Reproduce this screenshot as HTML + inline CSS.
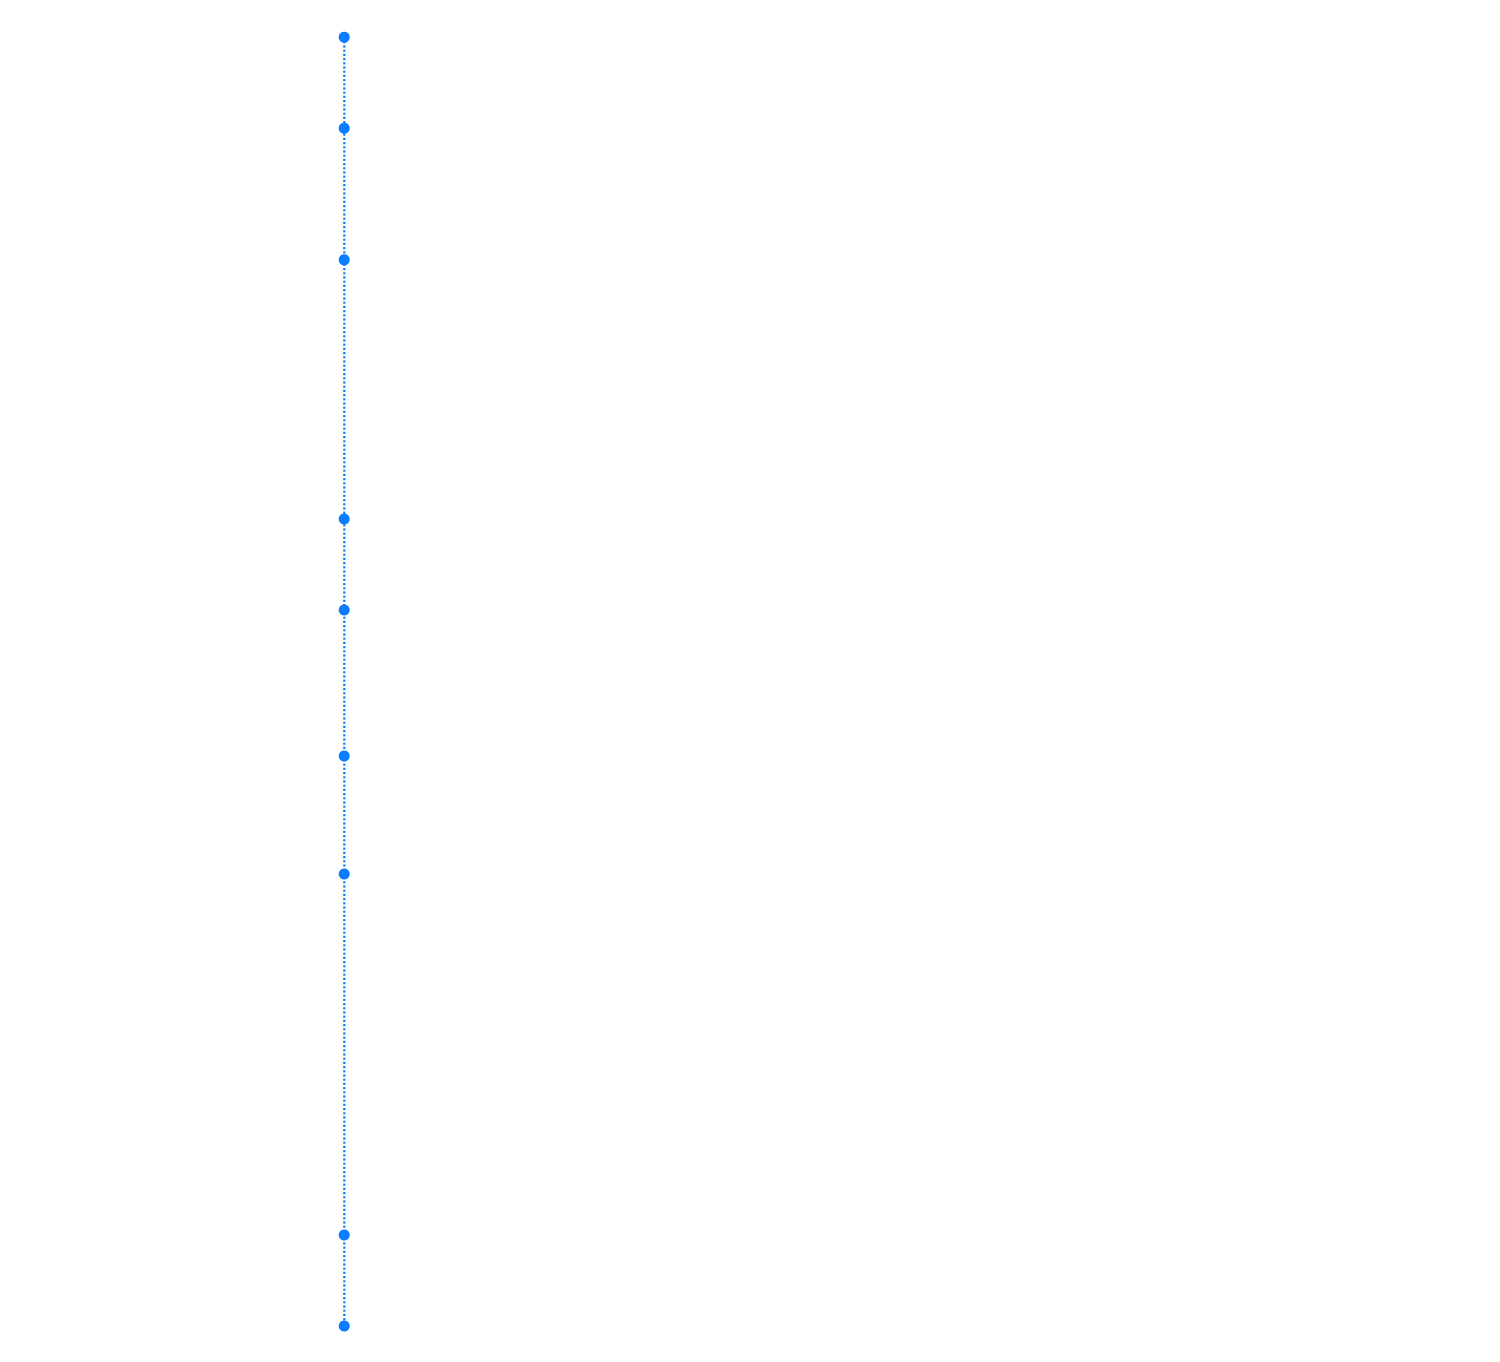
<!DOCTYPE html>
<html>
<head>
<meta charset="utf-8">
<style>
  html, body { margin: 0; padding: 0; background: #ffffff; }
  body { width: 1500px; height: 1362px; overflow: hidden; font-family: "Liberation Sans", sans-serif; }
  svg { display: block; }
</style>
</head>
<body>
<svg width="1500" height="1362" viewBox="0 0 1500 1362" xmlns="http://www.w3.org/2000/svg">
  <rect width="1500" height="1362" fill="#ffffff"/>
  <line x1="344.3" y1="37" x2="344.3" y2="1326" stroke="#0a7cff" stroke-width="2.2" stroke-dasharray="2.2 2"/>
  <g fill="#0a7cff">
    <circle cx="344.2" cy="37.2" r="5.5"/>
    <circle cx="344.2" cy="128.2" r="5.5"/>
    <circle cx="344.2" cy="259.8" r="5.5"/>
    <circle cx="344.2" cy="519" r="5.5"/>
    <circle cx="344.2" cy="610" r="5.5"/>
    <circle cx="344.2" cy="756" r="5.5"/>
    <circle cx="344.2" cy="874" r="5.5"/>
    <circle cx="344.2" cy="1235" r="5.5"/>
    <circle cx="344.2" cy="1326" r="5.5"/>
  </g>
</svg>
</body>
</html>
